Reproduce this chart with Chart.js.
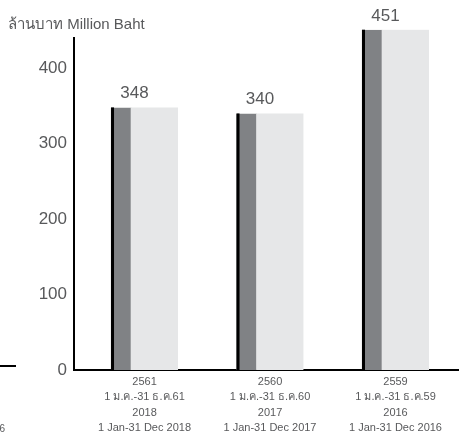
<!DOCTYPE html>
<html>
<head>
<meta charset="utf-8">
<title>ล้านบาท Million Baht</title>
<script src="https://cdn.jsdelivr.net/npm/chart.js@4/dist/chart.umd.min.js"></script>
<style>
  html, body { margin: 0; padding: 0; background: #ffffff; }
  #wrap { width: 459px; height: 433px; overflow: hidden; }
</style>
</head>
<body>
<div id="wrap"><canvas id="c" width="459" height="433"></canvas></div>
<script>
// Fiscal-year categories (Thai Buddhist year first, then Gregorian)
const yearsTH = ['2561', '2560', '2559'];
const periodsTH = ['1 ม.ค.-31 ธ.ค.61', '1 ม.ค.-31 ธ.ค.60', '1 ม.ค.-31 ธ.ค.59'];
const yearsEN = ['2018', '2017', '2016'];
const periodsEN = ['1 Jan-31 Dec 2018', '1 Jan-31 Dec 2017', '1 Jan-31 Dec 2016'];

// Amounts in million Baht
const amounts = [348, 340, 451];

// Value axis ticks
const yTickStep = 100;
const yTickMax = 400;

const FONT = '"Liberation Sans", Arial, Helvetica, "Noto Sans", "DejaVu Sans", sans-serif';
const GREY_TEXT = '#58595b';
const BAR_LIGHT = '#e6e7e8';
const BAR_DARK = '#808285';

const categoryLabels = yearsTH.map((y, i) => [y, periodsTH[i], yearsEN[i], periodsEN[i]]);
const points = amounts.map((v, i) => ({ x: i + 1, y: v }));

// Black leading edge on each bar plus the value above it
const barDecor = {
  id: 'barDecor',
  afterDatasetsDraw(chart) {
    const ctx = chart.ctx;
    const meta = chart.getDatasetMeta(0);
    ctx.save();
    meta.data.forEach((bar, i) => {
      const p = bar.getProps(['x', 'y', 'base', 'width'], true);
      const left = p.x - p.width / 2;
      ctx.fillStyle = '#000000';
      ctx.fillRect(left, p.y, 3, p.base - p.y);
      ctx.fillStyle = GREY_TEXT;
      ctx.font = '17px ' + FONT;
      ctx.textAlign = 'center';
      ctx.textBaseline = 'alphabetic';
      ctx.fillText(String(amounts[i]), p.x - 10, p.y - 9);
    });
    ctx.restore();
  }
};

// Edge of the neighbouring panel on the left
const neighbourEdge = {
  id: 'neighbourEdge',
  afterDraw(chart) {
    const ctx = chart.ctx;
    ctx.save();
    ctx.fillStyle = '#000000';
    ctx.fillRect(0, 365, 16, 2);
    ctx.fillStyle = GREY_TEXT;
    ctx.font = '10px ' + FONT;
    ctx.textAlign = 'right';
    ctx.textBaseline = 'middle';
    ctx.fillText('1 Jan-31 Dec 2016', 5, 429);
    ctx.restore();
  }
};

new Chart(document.getElementById('c'), {
  type: 'bar',
  data: {
    datasets: [{
      data: points,
      backgroundColor: BAR_LIGHT,
      borderColor: BAR_DARK,
      borderWidth: { left: 20, top: 0, right: 0, bottom: 0 },
      borderSkipped: false,
      barThickness: 67,
      clip: false
    }]
  },
  options: {
    responsive: false,
    animation: false,
    layout: { padding: { left: 8, top: 16, right: 0, bottom: 0 } },
    plugins: {
      legend: { display: false },
      tooltip: { enabled: false },
      title: {
        display: true,
        text: 'ล้านบาท Million Baht',
        align: 'start',
        color: GREY_TEXT,
        font: { family: FONT, size: 15, weight: 'normal' },
        padding: { top: 0, bottom: 4 }
      }
    },
    scales: {
      x: {
        type: 'linear',
        offset: false,
        min: 0.438,
        max: 3.506,
        grid: { display: false, drawTicks: false },
        border: { display: true, color: '#000000', width: 2 },
        afterFit(scale) { scale.height = 63; },
        ticks: {
          stepSize: 1,
          includeBounds: false,
          autoSkip: false,
          maxRotation: 0,
          minRotation: 0,
          padding: 4,
          color: GREY_TEXT,
          font: { family: FONT, size: 11, lineHeight: 1.4 },
          callback: (v) => categoryLabels[v - 1] || ''
        }
      },
      y: {
        min: 0,
        max: 440,
        grid: { display: false, drawTicks: false },
        border: { display: true, color: '#000000', width: 2 },
        afterFit(scale) { scale.width = 66; },
        ticks: {
          stepSize: yTickStep,
          includeBounds: false,
          padding: 7,
          color: GREY_TEXT,
          font: { family: FONT, size: 17 },
          callback: (v) => (v <= yTickMax ? v : '')
        }
      }
    }
  },
  plugins: [barDecor, neighbourEdge]
});
</script>
</body>
</html>
